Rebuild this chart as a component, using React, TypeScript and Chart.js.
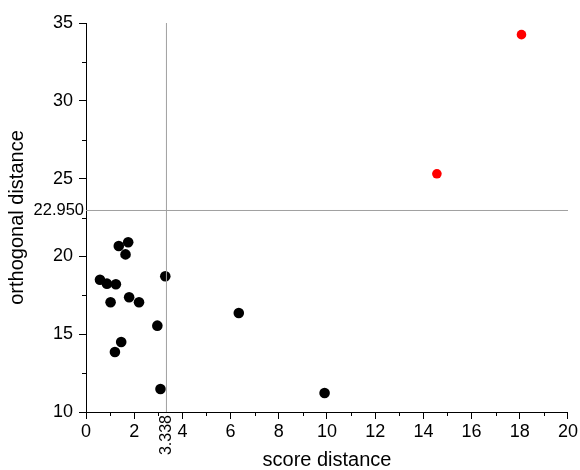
import React, { useEffect, useRef } from "react";
import { Chart, registerables } from "chart.js";

Chart.register(...registerables);

const normalX = [0.58, 0.87, 1.02, 1.24, 1.2, 1.36, 1.46, 1.64, 1.75, 1.79, 2.2, 2.96, 3.09, 3.29, 6.34, 9.9];
const normalY = [18.5, 18.25, 17.05, 18.21, 13.86, 20.67, 14.5, 20.13, 20.91, 17.37, 17.05, 15.55, 11.48, 18.72, 16.36, 11.22];
const outlierX = [14.56, 18.07];
const outlierY = [25.31, 34.25];
const scoreThreshold = 3.338;
const orthThreshold = 22.95;
const xRange = [0, 20];
const yRange = [10, 35];
const xMinorTicks = [1, 3, 5, 7, 9, 11, 13, 15, 17, 19];
const yMinorTicks = [12.5, 17.5, 22.5, 27.5, 32.5];

const FONT = "'Liberation Sans', Arial, sans-serif";

const extrasPlugin = {
  id: "extras",
  afterDraw(chart: any) {
    const ctx = chart.ctx;
    const xs = chart.scales.x;
    const ys = chart.scales.y;
    const area = chart.chartArea;
    ctx.save();
    ctx.strokeStyle = "#000";
    ctx.lineWidth = 1;
    ctx.beginPath();
    xMinorTicks.forEach((v) => {
      const px = Math.round(xs.getPixelForValue(v)) + 0.5;
      ctx.moveTo(px, area.bottom);
      ctx.lineTo(px, area.bottom + 4);
    });
    yMinorTicks.forEach((v) => {
      const py = Math.round(ys.getPixelForValue(v)) + 0.5;
      ctx.moveTo(area.left, py);
      ctx.lineTo(area.left - 4, py);
    });
    ctx.stroke();

    ctx.fillStyle = "#000";
    ctx.font = `16.5px ${FONT}`;
    ctx.textAlign = "right";
    ctx.textBaseline = "middle";
    ctx.fillText(orthThreshold.toFixed(3), area.left - 2, ys.getPixelForValue(orthThreshold));
    ctx.translate(xs.getPixelForValue(scoreThreshold), area.bottom + 3);
    ctx.rotate(-Math.PI / 2);
    ctx.textAlign = "right";
    ctx.textBaseline = "middle";
    ctx.font = `16px ${FONT}`;
    ctx.fillText(scoreThreshold.toFixed(3), 0, 0);
    ctx.restore();
  },
};

export default function App() {
  const ref = useRef<HTMLCanvasElement>(null);
  useEffect(() => {
    if (!ref.current) return;
    const chart = new Chart(ref.current, {
      type: "scatter",
      data: {
        datasets: [
          {
            type: "line",
            data: [
              { x: scoreThreshold, y: yRange[0] },
              { x: scoreThreshold, y: yRange[1] },
            ],
            borderColor: "#a0a0a0",
            borderWidth: 1,
            pointRadius: 0,
            fill: false,
          } as any,
          {
            type: "line",
            data: [
              { x: xRange[0], y: orthThreshold },
              { x: xRange[1], y: orthThreshold },
            ],
            borderColor: "#a0a0a0",
            borderWidth: 1,
            pointRadius: 0,
            fill: false,
          } as any,
          {
            data: normalX.map((x, i) => ({ x, y: normalY[i] })),
            backgroundColor: "#000",
            borderColor: "#000",
            pointRadius: 5.3,
            borderWidth: 0,
          },
          {
            data: outlierX.map((x, i) => ({ x, y: outlierY[i] })),
            backgroundColor: "#ff0000",
            borderColor: "#ff0000",
            pointRadius: 4.8,
            borderWidth: 0,
          },
        ],
      },
      options: {
        animation: false,
        responsive: false,
        layout: { padding: { left: 0, top: 23, right: 10, bottom: 0 } },
        plugins: { legend: { display: false }, tooltip: { enabled: false } },
        scales: {
          x: {
            type: "linear",
            min: xRange[0],
            max: xRange[1],
            ticks: { stepSize: 2, color: "#000", font: { family: FONT, size: 18 }, padding: 2, maxRotation: 0 },
            grid: { display: true, drawOnChartArea: false, drawTicks: true, tickLength: 7, color: "#000" },
            border: { display: true, color: "#000", width: 1 },
            title: { display: true, text: "score distance", color: "#000", font: { family: FONT, size: 20, lineHeight: 1 }, padding: { top: 0, bottom: 0 } },
            afterFit: (s: any) => { s.height = 58; },
          },
          y: {
            type: "linear",
            min: yRange[0],
            max: yRange[1],
            ticks: { stepSize: 5, color: "#000", font: { family: FONT, size: 18 }, padding: 6 },
            grid: { display: true, drawOnChartArea: false, drawTicks: true, tickLength: 7, color: "#000" },
            border: { display: true, color: "#000", width: 1 },
            title: { display: true, text: "orthogonal distance", color: "#000", font: { family: FONT, size: 20, lineHeight: 1 }, padding: { top: 7, bottom: 0 } },
            afterFit: (s: any) => { s.width = 86; },
          },
        },
      } as any,
      plugins: [extrasPlugin],
    });
    return () => chart.destroy();
  }, []);
  return (
    <div style={{ position: "fixed", left: 0, top: 0, width: 580, height: 470, background: "#fff" }}>
      <canvas ref={ref} width={580} height={470} style={{ display: "block" }} />
    </div>
  );
}
